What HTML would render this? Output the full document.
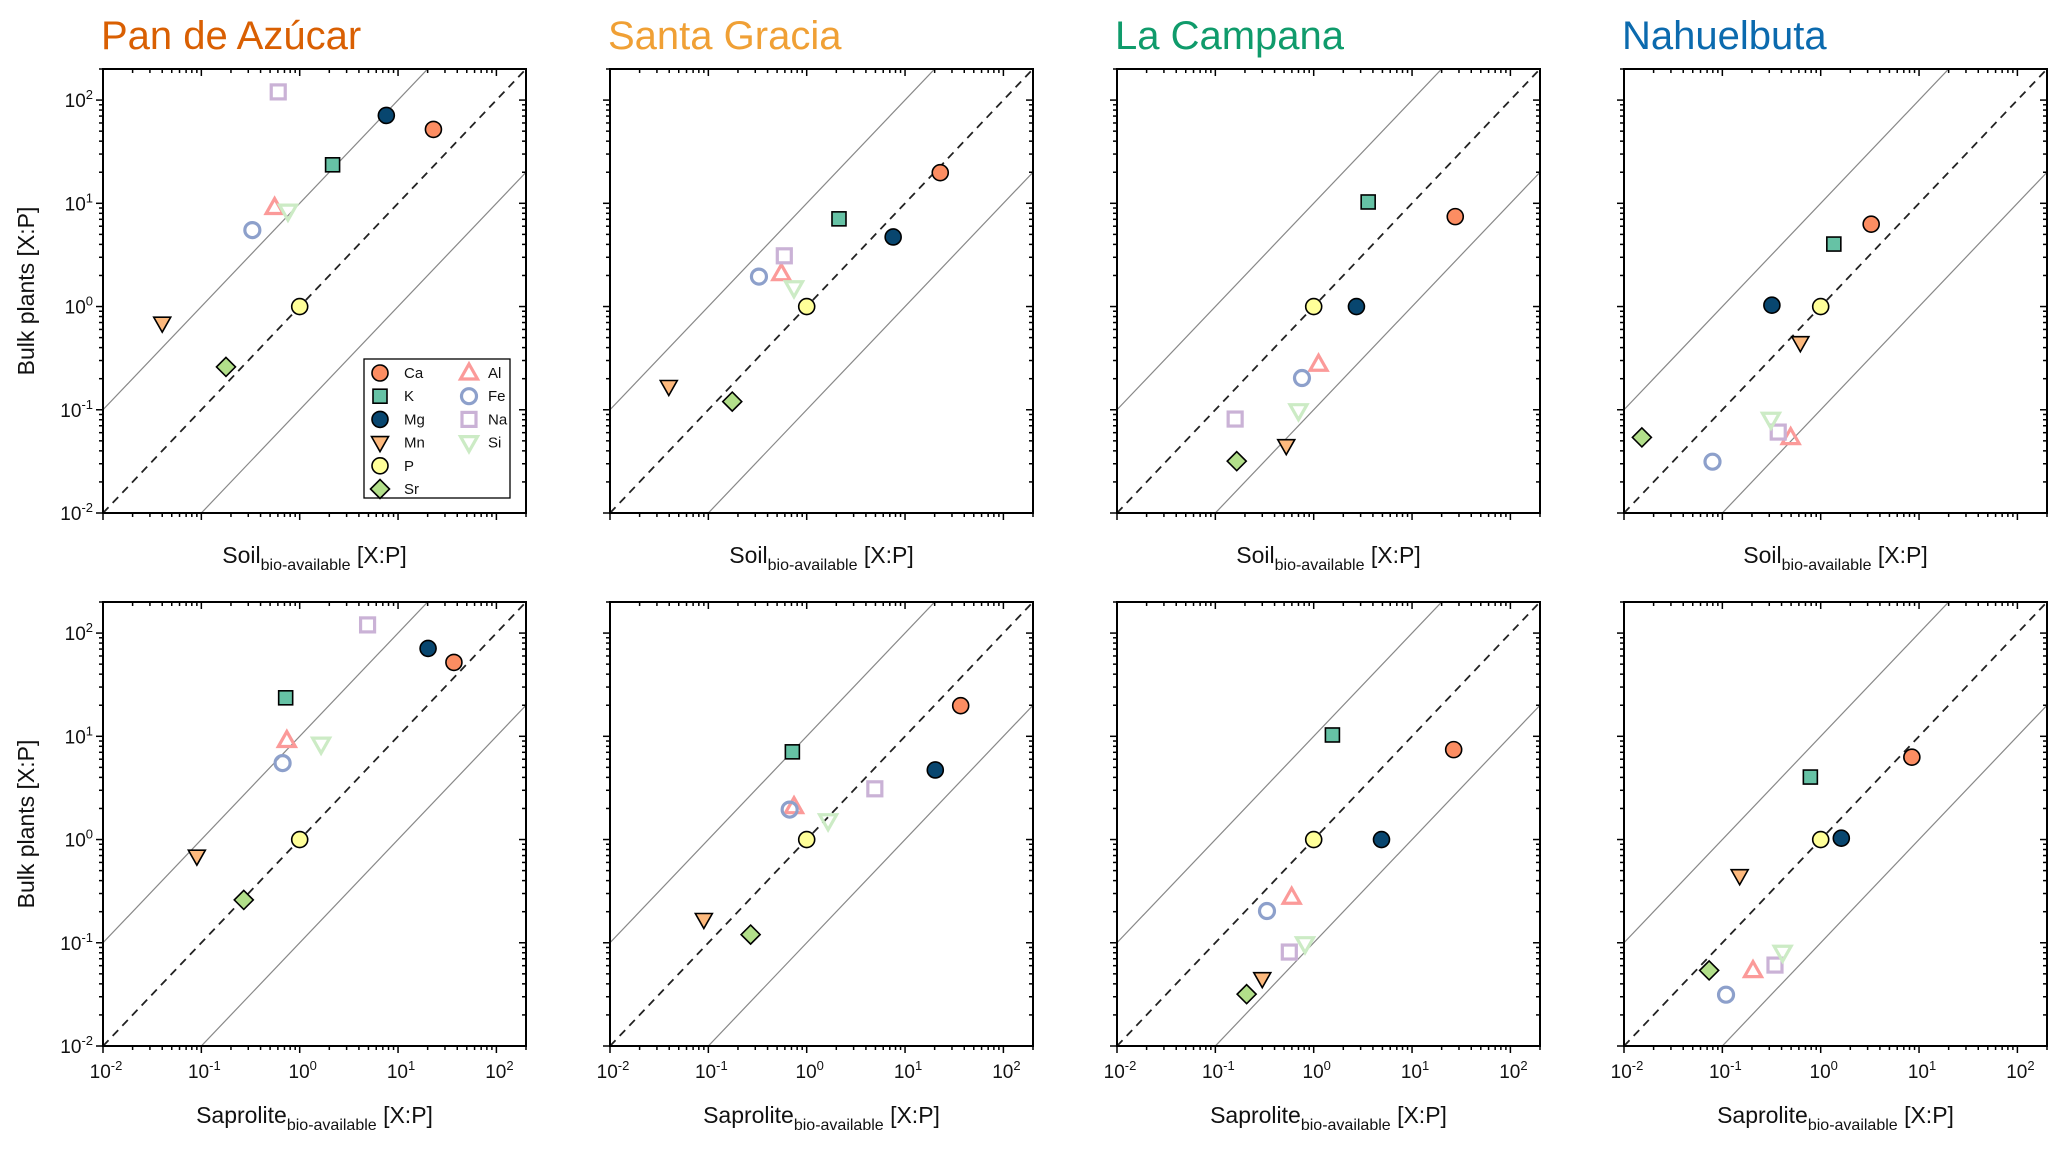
<!DOCTYPE html>
<html><head><meta charset="utf-8"><style>
html,body{margin:0;padding:0;background:#fff;}
svg{display:block;font-family:"Liberation Sans","DejaVu Sans",sans-serif;}
</style></head><body>
<svg id="fig" width="2067" height="1151" viewBox="0 0 2067 1151" xmlns="http://www.w3.org/2000/svg"></svg>
<script>
const elements = ['Ca','K','Mg','Mn','P','Sr','Al','Fe','Na','Si'];
const sites = ['Pan de Azúcar','Santa Gracia','La Campana','Nahuelbuta'];
const siteColors = ['#d95f02','#f0a035','#0f9b6b','#0b6aae'];
const tickExps = [-2,-1,0,1,2];
// Bulk plants [X:P]
const plantPan = [52,23.6,71,0.69,1,0.26,9.1,5.5,120,8.4];
const plantSG  = [19.8,7.07,4.72,0.168,1,0.12,2.08,1.95,3.1,1.52];
const plantLC  = [7.43,10.3,1.0,0.0449,1,0.0318,0.276,0.203,0.0813,0.098];
const plantNB  = [6.28,4.03,1.03,0.446,1,0.054,0.0537,0.0314,0.0608,0.081];
// Soil bio-available [X:P]
const soilPan = [22.9,2.16,7.6,0.040,1,0.178,0.556,0.33,0.605,0.76];
const soilSG  = [22.8,2.13,7.57,0.0396,1,0.175,0.552,0.327,0.592,0.743];
const soilLC  = [27.5,3.58,2.72,0.526,1,0.165,1.12,0.76,0.159,0.70];
const soilNB  = [3.26,1.36,0.319,0.621,1,0.0152,0.495,0.0794,0.37,0.312];
// Saprolite bio-available [X:P]
const sapPan = [37,0.72,20.2,0.09,1,0.27,0.74,0.67,4.9,1.65];
const sapSG  = [36.8,0.715,20.3,0.09,1,0.269,0.743,0.671,4.93,1.65];
const sapLC  = [26.5,1.55,4.89,0.30,1,0.208,0.597,0.335,0.565,0.816];
const sapNB  = [8.45,0.785,1.62,0.15,1,0.0734,0.205,0.109,0.343,0.41];

const plants = [plantPan,plantSG,plantLC,plantNB];
const soils = [soilPan,soilSG,soilLC,soilNB];
const saps = [sapPan,sapSG,sapLC,sapNB];

const styles = {
 Ca:{s:'o',f:'#fc8d62',open:false}, K:{s:'s',f:'#66c2a5',open:false}, Mg:{s:'o',f:'#08466f',open:false},
 Mn:{s:'v',f:'#fdb97d',open:false}, P:{s:'o',f:'#ffff99',open:false}, Sr:{s:'d',f:'#b2df8a',open:false},
 Al:{s:'^',f:'#fb9a99',open:true}, Fe:{s:'o',f:'#8da0cb',open:true}, Na:{s:'s',f:'#cab2d6',open:true}, Si:{s:'v',f:'#ccebc5',open:true}
};

const NS='http://www.w3.org/2000/svg';
const svg=document.getElementById('fig');
function mk(tag,attrs,parent){const e=document.createElementNS(NS,tag);for(const k in attrs)e.setAttribute(k,attrs[k]);(parent||svg).appendChild(e);return e;}

const colLeft=[103,610,1117,1624], rowTop=[69,602], W=423, H=444;
const LMIN=-2, LMAX=Math.log10(200);
function xs(v,x0){return x0+(Math.log10(v)-LMIN)/(LMAX-LMIN)*W;}
function ys(v,y0){return y0+H-(Math.log10(v)-LMIN)/(LMAX-LMIN)*H;}

function marker(g,sty,x,y){
  const stroke=sty.open?sty.f:'#000', sw=sty.open?3.2:1.6, fill=sty.open?'none':sty.f;
  let e;
  if(sty.s==='o') e=mk('circle',{cx:x,cy:y,r:sty.open?7.5:8},g);
  else if(sty.s==='s') e=mk('rect',{x:x-7,y:y-7,width:14,height:14},g);
  else if(sty.s==='d') e=mk('polygon',{points:`${x},${y-9.5} ${x+9.5},${y} ${x},${y+9.5} ${x-9.5},${y}`},g);
  else if(sty.s==='^') e=mk('polygon',{points:`${x},${y-9} ${x+8.5},${y+6} ${x-8.5},${y+6}`},g);
  else e=mk('polygon',{points:`${x},${y+9} ${x+8.5},${y-6} ${x-8.5},${y-6}`},g);
  e.setAttribute('fill',fill);e.setAttribute('stroke',stroke);e.setAttribute('stroke-width',sw);
  return e;
}

function tickLabel(g,x,y,exp,anchor){
  const t=mk('text',{x:x,y:y,'font-size':19,'text-anchor':anchor,fill:'#111'},g);
  t.appendChild(document.createTextNode('10'));
  const s=mk('tspan',{dy:-8,'font-size':13},t);s.textContent=String(exp);
  return t;
}

for(let r=0;r<2;r++){
 for(let c=0;c<4;c++){
  const x0=colLeft[c], y0=rowTop[r];
  const g=mk('g',{});
  
  
  const clipId='clip'+r+c;
  const cp=mk('clipPath',{id:clipId},g);mk('rect',{x:x0,y:y0,width:W,height:H},cp);
  const lg=mk('g',{'clip-path':`url(#${clipId})`},g);
  // reference lines
  [[10,'#888','none',1.2,'upper-10x-line'],[1,'#222','8 6',1.8,'one-to-one-line'],[0.1,'#888','none',1.2,'lower-0.1x-line']].forEach(([k,col,da,sw,nm])=>{
    const xa=0.01,xb=200;
    const ln=mk('line',{x1:xs(xa,x0),y1:ys(xa*k,y0),x2:xs(xb,x0),y2:ys(xb*k,y0),stroke:col,'stroke-width':sw,'stroke-dasharray':da},lg);
    
    
  });
  // ticks
  const tg=mk('g',{stroke:'#000','stroke-width':1.5},g);
  for(let e=-2;e<=2;e++){
    for(let m=1;m<10;m++){
      const v=m*Math.pow(10,e); if(v>200)continue;
      const L=m===1?7:4;
      const tx=xs(v,x0), ty=ys(v,y0);
      mk('line',{x1:tx,y1:y0+H,x2:tx,y2:y0+H+L},tg);
      mk('line',{x1:tx,y1:y0,x2:tx,y2:y0+L},tg);
      mk('line',{x1:x0,y1:ty,x2:x0-L,y2:ty},tg);
      mk('line',{x1:x0+W,y1:ty,x2:x0+W-L,y2:ty},tg);
    }
  }
  mk('rect',{x:x0,y:y0,width:W,height:H,fill:'none',stroke:'#000','stroke-width':2},g);
  if(c===0){
    tickExps.forEach(e=>{const t=tickLabel(g,x0-10,ys(Math.pow(10,e),y0)+7,e,'end');
      
      });
    const yl=mk('text',{x:0,y:0,'font-size':23,'text-anchor':'middle',fill:'#111',transform:`translate(34,${y0+H/2}) rotate(-90)`},g);
    yl.textContent='Bulk plants [X:P]';
    
    
  }
  if(r===1){
    tickExps.forEach(e=>{const t=tickLabel(g,xs(Math.pow(10,e),x0)+3,y0+H+32,e,'middle');
      
      });
  }
  const xl=mk('text',{x:x0+W/2,y:y0+H+(r===0?50:77),'font-size':23,'text-anchor':'middle',fill:'#111'},g);
  xl.appendChild(document.createTextNode(r===0?'Soil':'Saprolite'));
  const sub=mk('tspan',{dy:7,'font-size':16},xl);sub.textContent='bio-available';
  const rest=mk('tspan',{dy:-7},xl);rest.textContent=' [X:P]';
  
  
  if(r===0){
    const tt=mk('text',{x:x0-2,y:49,'font-size':40,fill:siteColors[c]},g);
    tt.textContent=sites[c];
    
    
  }
  // points
  const xv=r===0?soils[c]:saps[c], yv=plants[c];
  elements.forEach((el,i)=>{
    const m=marker(g,styles[el],xs(xv[i],x0),ys(yv[i],y0));
    
    
  });
  // legend
  if(r===0&&c===0){
    const lgd=mk('g',{},g);
    
    
    mk('rect',{x:364,y:359,width:146,height:139,fill:'#fff',stroke:'#000','stroke-width':1.3},lgd);
    elements.forEach((el,i)=>{
      const col=i<6?0:1, row=i<6?i:i-6;
      const mx=col===0?380:469, ty=373+row*23.2;
      const ge=mk('g',{},lgd);
      
      
      marker(ge,styles[el],mx,ty);
      const t=mk('text',{x:col===0?404:488,y:ty+5,'font-size':15,fill:'#111'},ge);
      t.textContent=el;
    });
  }
 }
}
</script>
</body></html>
